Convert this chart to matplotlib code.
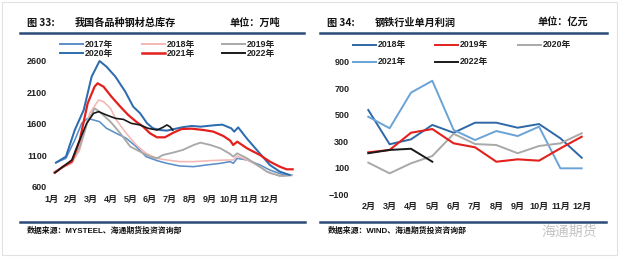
import matplotlib
matplotlib.use("Agg")
import matplotlib.pyplot as plt
from matplotlib.lines import Line2D
from matplotlib.patches import Rectangle

# ---------------- data: left chart (total steel inventory, 万吨) ----------------
inv_2017_m = [1.1, 1.6, 2.05, 2.4, 2.7, 3.3, 3.65, 4.15, 4.65, 5.15, 5.65, 6.2, 6.7, 7.35, 8.05, 8.7, 9.4, 9.9, 10.05, 10.25, 10.75, 11.4, 11.9, 12.6, 13.0]
inv_2017_v = [982, 1050, 1341, 1606, 1685, 1632, 1527, 1447, 1368, 1236, 1077, 1014, 971, 929, 918, 945, 971, 998, 971, 1050, 1024, 945, 865, 786, 786]

inv_2018_m = [1.0, 1.9, 2.3, 2.8, 3.25, 3.5, 3.85, 4.15, 4.65, 5.15, 5.65, 6.2, 6.7, 7.35, 8.05, 8.9, 9.7, 10.05, 10.25, 10.75, 11.4, 11.9, 12.6, 13.0]
inv_2018_v = [839, 971, 1183, 1765, 1976, 1950, 1844, 1659, 1447, 1262, 1130, 1050, 1024, 998, 998, 1014, 1024, 1024, 1088, 1024, 918, 812, 770, 786]

inv_2019_m = [1.0, 1.9, 2.3, 2.7, 3.05, 3.3, 3.85, 4.35, 4.85, 5.35, 5.85, 6.2, 6.5, 7.0, 7.5, 8.05, 8.4, 8.9, 9.4, 9.9, 10.05, 10.25, 10.75, 11.25, 11.75, 12.4, 13.0]
inv_2019_v = [823, 998, 1236, 1632, 1844, 1791, 1632, 1447, 1236, 1156, 1077, 1050, 1103, 1140, 1183, 1262, 1299, 1262, 1209, 1119, 1077, 1130, 1050, 945, 839, 770, 781]

inv_2020_m = [1.1, 1.6, 2.05, 2.5, 2.9, 3.3, 3.65, 4.1, 4.6, 5.0, 5.35, 5.7, 6.0, 6.35, 6.7, 7.0, 7.45, 7.95, 8.4, 9.05, 9.5, 9.95, 10.1, 10.3, 10.73, 11.24, 11.9, 12.4, 12.9]
inv_2020_v = [982, 1077, 1500, 1818, 2347, 2595, 2505, 2347, 2108, 1870, 1765, 1606, 1527, 1500, 1490, 1510, 1542, 1564, 1553, 1574, 1585, 1527, 1474, 1542, 1368, 1183, 945, 839, 786]

inv_2021_m = [1.05, 1.45, 1.9, 2.3, 2.7, 3.05, 3.2, 3.5, 3.9, 4.35, 4.75, 5.15, 5.5, 5.85, 6.2, 6.6, 7.03, 7.45, 7.95, 8.55, 9.05, 9.55, 9.9, 10.05, 10.25, 10.75, 11.4, 11.9, 12.4, 12.75, 13.05]
inv_2021_v = [823, 918, 998, 1341, 1923, 2188, 2241, 2188, 2029, 1870, 1738, 1632, 1553, 1447, 1384, 1384, 1458, 1516, 1521, 1500, 1474, 1405, 1331, 1262, 1315, 1209, 1103, 998, 918, 876, 876]

inv_2022_m = [1.05, 1.45, 1.9, 2.3, 2.65, 3.0, 3.25, 3.65, 4.1, 4.5, 4.9, 5.35, 5.75, 6.2, 6.5, 6.7, 6.85, 7.0]
inv_2022_v = [823, 918, 1024, 1341, 1606, 1765, 1791, 1738, 1685, 1669, 1606, 1580, 1527, 1500, 1542, 1580, 1553, 1500]

left_months = [1, 2, 3, 4, 5, 6, 7, 8, 9, 10, 11, 12]
left_month_labels = ["1月", "2月", "3月", "4月", "5月", "6月", "7月", "8月", "9月", "10月", "11月", "12月"]
left_yticks = [600, 1100, 1600, 2100, 2600]

# ---------------- data: right chart (monthly profit, 亿元) ----------------
right_months = [2, 3, 4, 5, 6, 7, 8, 9, 10, 11, 12]
right_month_labels = ["2月", "3月", "4月", "5月", "6月", "7月", "8月", "9月", "10月", "11月", "12月"]
profit_2018 = [535, 276, 313, 422, 363, 439, 439, 401, 429, 321, 174]
profit_2019 = [215, 233, 363, 391, 283, 253, 144, 162, 152, 245, 333]
profit_2020 = [137, 56, 132, 187, 355, 278, 270, 208, 263, 283, 359]
profit_2021 = [484, 397, 666, 756, 384, 308, 376, 338, 409, 94, 94]
profit_2022 = [208, 233, 242, 144]
right_yticks = [-100, 100, 300, 500, 700, 900]

# ---------------- style ----------------
W, H = 620, 258
fig = plt.figure(figsize=(W / 100, H / 100), dpi=100)
fig.patch.set_facecolor("white")

CJK = ["Noto Sans CJK SC"]
NUM = ["Liberation Sans", "Noto Sans CJK SC"]
NAVY = "#2C4A78"

C2017 = "#5B8FC7"
C2018P = "#F2B8B4"
C2019G = "#A9A9A9"
C2020B = "#2E6CB0"
C2021R = "#E3201C"
C2022K = "#1A1A1A"

C_R2018 = "#2F68A6"
C_R2021 = "#6AA3D6"


def fx(px):
    return px / W


def fy(py):
    return 1 - py / H


def style_axes(ax):
    for s in ax.spines.values():
        s.set_visible(False)
    ax.tick_params(length=0, labelsize=6.5)
    for lab in ax.get_xticklabels() + ax.get_yticklabels():
        lab.set_fontfamily(NUM)
        lab.set_fontweight("bold")
        lab.set_color("#222222")
    ax.set_facecolor("none")


# ---------------- left axes ----------------
axL = fig.add_axes([fx(50.04), fy(189.85), (295.6 - 50.04) / W, (189.85 - 57.55) / H])
axL.set_xlim(0.8, 13.2)
axL.set_ylim(550, 2650)
lw = 1.15
axL.plot(inv_2017_m, inv_2017_v, color=C2017, lw=lw, clip_on=False)
axL.plot(inv_2018_m, inv_2018_v, color=C2018P, lw=lw, clip_on=False)
axL.plot(inv_2019_m, inv_2019_v, color=C2019G, lw=lw + 0.2, clip_on=False)
axL.plot(inv_2020_m, inv_2020_v, color=C2020B, lw=lw + 0.3, clip_on=False)
axL.plot(inv_2021_m, inv_2021_v, color=C2021R, lw=1.6, clip_on=False)
axL.plot(inv_2022_m, inv_2022_v, color=C2022K, lw=1.2, clip_on=False)
axL.set_xticks([m - 0.15 for m in left_months])
axL.set_xticklabels(left_month_labels)
axL.set_yticks(left_yticks)
axL.set_yticklabels([str(v) for v in left_yticks])
axL.tick_params(axis="y", pad=2.2)
axL.tick_params(axis="x", pad=3.5)
style_axes(axL)

# ---------------- right axes ----------------
axR = fig.add_axes([fx(357.6), fy(194), (592.4 - 357.6) / W, (194 - 61.7) / H])
axR.set_xlim(1.5, 12.5)
axR.set_ylim(-100, 900)
axR.plot(right_months, profit_2018, color=C_R2018, lw=1.4, clip_on=False)
axR.plot(right_months, profit_2021, color=C_R2021, lw=1.4, clip_on=False)
axR.plot(right_months, profit_2020, color=C2019G, lw=1.4, clip_on=False)
axR.plot(right_months, profit_2019, color=C2021R, lw=1.5, clip_on=False)
axR.plot(right_months[:len(profit_2022)], profit_2022, color=C2022K, lw=1.4, clip_on=False)
axR.set_xticks(right_months)
axR.set_xticklabels(right_month_labels)
axR.set_yticks(right_yticks)
axR.set_yticklabels([("\u2212" + str(-v)) if v < 0 else str(v) for v in right_yticks])
axR.tick_params(axis="y", pad=6)
axR.tick_params(axis="x", pad=5.5)
style_axes(axR)

# ---------------- headers ----------------
title_kw = dict(fontfamily=CJK, fontweight="bold", fontsize=7.3, color="#111111", va="center")
fig.text(fx(27), fy(23), "图 33:", **title_kw)
fig.text(fx(75), fy(23), "我国各品种钢材总库存", **title_kw)
fig.text(fx(230), fy(23), "单位：万吨", **title_kw)
fig.text(fx(327), fy(23), "图 34:", **title_kw)
fig.text(fx(375), fy(23), "钢铁行业单月利润", **title_kw)
fig.text(fx(537), fy(23), "单位：亿元", **title_kw)

for (x0, x1, y) in [(20, 304, 33), (320, 607, 33), (20, 305, 221.5), (320, 606, 221.5)]:
    fig.add_artist(Line2D([fx(x0), fx(x1)], [fy(y), fy(y)], color=NAVY, lw=1.8,
                          transform=fig.transFigure))

# ---------------- legends ----------------
def leg(x0, y, color, label, lwid=1.4):
    fig.add_artist(Line2D([fx(x0), fx(x0 + 23)], [fy(y), fy(y)], color=color, lw=lwid,
                          transform=fig.transFigure))
    fig.text(fx(x0 + 24.5), fy(y), label, fontfamily=NUM, fontweight="bold",
             fontsize=6.3, color="#222222", va="center", ha="left")

leg(60, 44.3, C2017, "2017年")
leg(142, 44.3, C2018P, "2018年")
leg(222, 44.3, C2019G, "2019年")
leg(60, 53.3, C2020B, "2020年")
leg(142, 53.3, C2021R, "2021年", 1.8)
leg(222, 53.3, C2022K, "2022年")

leg(353, 45, C_R2018, "2018年")
leg(435, 45, C2021R, "2019年")
leg(518, 45, C2019G, "2020年")
leg(353, 61.7, C_R2021, "2021年")
leg(435, 61.7, C2022K, "2022年")

# ---------------- sources / watermark ----------------
src_kw = dict(fontfamily=NUM, fontweight="bold", fontsize=5.7, color="#111111", va="center")
fig.text(fx(27), fy(231), "数据来源：MYSTEEL、海通期货投资咨询部", **src_kw)
fig.text(fx(328), fy(231), "数据来源：WIND、海通期货投资咨询部", **src_kw)
fig.text(fx(541), fy(232), "海通期货", fontfamily=CJK, fontsize=10, color="#C4C4C4",
         va="center", ha="left", style="italic")

fig.add_artist(Rectangle((fx(2), fy(255)), fx(615), (255 - 2) / H, fill=False,
                         edgecolor="#E2E2E2", lw=0.8, transform=fig.transFigure))

fig.savefig("out.png", dpi=100, facecolor="white")
